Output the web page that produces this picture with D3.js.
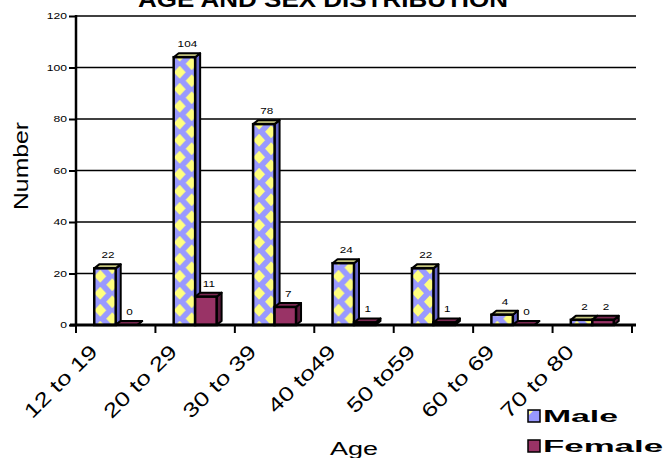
<!DOCTYPE html>
<html>
<head>
<meta charset="utf-8">
<script src="https://cdn.jsdelivr.net/npm/d3@7"></script>
<style>
  body { margin: 0; background: #fff; }
  text { font-family: "Liberation Sans", Arial, sans-serif; }
</style>
</head>
<body>
<svg id="chart" width="664" height="458"></svg>
<script>
var categories = ["12 to 19", "20 to 29", "30 to 39", "40 to49", "50 to59", "60 to 69", "70 to 80"]
var series = ["Male", "Female"]
var male = [22, 104, 78, 24, 22, 4, 2]
var female = [0, 11, 7, 1, 1, 0, 2]
var yTicks = [0, 20, 40, 60, 80, 100, 120]

var svg = d3.select("#chart")
var plotLeft = 76, plotRight = 632, plotTop = 16, plotBottom = 325
var depth = {dx: 5, dy: -4}

var x = d3.scaleBand().domain(categories).range([plotLeft, plotRight]).padding(0)
var xSub = d3.scaleBand().domain(series).range([0, x.bandwidth()]).paddingInner(0).paddingOuter(0.85)
var y = d3.scaleLinear().domain([0, 120]).range([plotBottom, plotTop])

// stretch text sideways like the original export
function stretch(sel, k) {
  sel.each(function() {
    var len = this.getComputedTextLength()
    d3.select(this).attr("textLength", len * k).attr("lengthAdjust", "spacingAndGlyphs")
  })
}

// checker pattern for male bars
var defs = svg.append("defs")
var pat = defs.append("pattern").attr("id", "maleFill")
  .attr("patternUnits", "userSpaceOnUse").attr("width", 24).attr("height", 17)
pat.append("rect").attr("width", 24).attr("height", 17).attr("fill", "#9999ff")
function diamond(cx, cy, hw, hh) {
  return "M" + (cx - hw) + "," + cy + "L" + cx + "," + (cy - hh) + "L" + (cx + hw) + "," + cy + "L" + cx + "," + (cy + hh) + "Z"
}
var dw = 6, dh = 6.5
pat.append("path").attr("fill", "#ffff80")
  .attr("d", diamond(6, 4.25, dw, dh) + diamond(18, 12.75, dw, dh) + diamond(18, -4.25, dw, dh) + diamond(6, 21.25, dw, dh) + diamond(-6, 12.75, dw, dh) + diamond(30, 4.25, dw, dh))

// title
svg.append("text").attr("x", 138).attr("y", 7).attr("font-size", 22).attr("font-weight", "bold")
  .attr("textLength", 370).attr("lengthAdjust", "spacingAndGlyphs")
  .text("AGE AND SEX DISTRIBUTION")

// gridlines
svg.append("g").selectAll("line").data(yTicks.filter(d => d > 0)).enter().append("line")
  .attr("x1", plotLeft).attr("x2", 636)
  .attr("y1", d => y(d)).attr("y2", d => y(d))
  .attr("stroke", "#000").attr("stroke-width", 1.5)

// y axis
var yAxis = svg.append("g").attr("transform", "translate(" + plotLeft + ",0)")
  .call(d3.axisLeft(y).tickValues(yTicks).tickSize(7).tickPadding(2))
yAxis.select(".domain").remove()
yAxis.selectAll(".tick line").attr("stroke-width", 2)
yAxis.selectAll(".tick text").attr("font-size", 9).attr("font-family", "Liberation Sans, Arial, sans-serif")
stretch(yAxis.selectAll(".tick text"), 1.35)
svg.append("line").attr("x1", plotLeft).attr("x2", plotLeft).attr("y1", plotTop - 1).attr("y2", plotBottom)
  .attr("stroke", "#000").attr("stroke-width", 2.5)

// bars
var groups = svg.append("g").selectAll("g.cat").data(categories).enter().append("g")
  .attr("class", "cat")

groups.each(function(c, i) {
  var g = d3.select(this)
  var vals = {Male: male[i], Female: female[i]}
  series.forEach(function(s) {
    var bx = x(c) + xSub(s), w = xSub.bandwidth()
    var by = y(vals[s]), b0 = y(0)
    var bar = g.append("g").attr("transform", "translate(" + bx + ",0)")
    var front = s == "Male" ? "url(#maleFill)" : "#993366"
    var side = s == "Male" ? "#6464c8" : "#5a1a3c"
    var topc = s == "Male" ? "#c8c880" : "#7a2850"
    bar.append("path")
      .attr("d", "M" + w + "," + by + "L" + (w + depth.dx) + "," + (by + depth.dy) + "L" + (w + depth.dx) + "," + (b0 + depth.dy) + "L" + w + "," + b0 + "Z")
      .attr("fill", side).attr("stroke", "#000").attr("stroke-width", 2).attr("stroke-linejoin", "round")
    bar.append("path")
      .attr("d", "M0," + by + "L" + depth.dx + "," + (by + depth.dy) + "L" + (w + depth.dx) + "," + (by + depth.dy) + "L" + w + "," + by + "Z")
      .attr("fill", topc).attr("stroke", "#000").attr("stroke-width", 2).attr("stroke-linejoin", "round")
    bar.append("rect").attr("x", 0).attr("y", by).attr("width", w).attr("height", b0 - by)
      .attr("fill", front).attr("stroke", "#000").attr("stroke-width", 2.5)
    g.append("text").attr("class", "val")
      .attr("x", bx + w / 2 + 3).attr("y", by - 10)
      .attr("text-anchor", "middle").attr("font-size", 9)
      .text(vals[s])
  })
})
stretch(svg.selectAll("text.val"), 1.3)

// floor line and x ticks
svg.append("line").attr("x1", plotLeft - 6).attr("x2", 636).attr("y1", plotBottom).attr("y2", plotBottom)
  .attr("stroke", "#000").attr("stroke-width", 3)
var bounds = categories.map(c => x(c)).concat([plotRight])
svg.append("g").selectAll("line").data(bounds).enter().append("line")
  .attr("x1", d => d).attr("x2", d => d).attr("y1", plotBottom).attr("y2", plotBottom + 8)
  .attr("stroke", "#000").attr("stroke-width", 2)

// x tick labels
var xl = svg.append("g").selectAll("text").data(categories).enter().append("text")
  .attr("transform", d => "translate(" + (x(d) + x.bandwidth() / 2 - 17) + "," + 353 + ") rotate(-45)")
  .attr("text-anchor", "end").attr("font-size", 20)
  .text(d => d)
stretch(xl, 1.3)

// axis titles
svg.append("text").attr("transform", "translate(28,166) rotate(-90)")
  .attr("text-anchor", "middle").attr("font-size", 20)
  .attr("textLength", 88).attr("lengthAdjust", "spacingAndGlyphs")
  .text("Number")
svg.append("text").attr("x", 330).attr("y", 455).attr("font-size", 18)
  .attr("textLength", 48).attr("lengthAdjust", "spacingAndGlyphs")
  .text("Age")

// legend
var legend = svg.append("g").selectAll("g").data(series).enter().append("g")
  .attr("transform", (d, i) => "translate(528," + (410 + i * 30) + ")")
legend.append("rect").attr("width", 12).attr("height", 12)
  .attr("fill", d => d == "Male" ? "#9999ff" : "#993366")
  .attr("stroke", "#000").attr("stroke-width", 1.5)
legend.filter(d => d == "Male").append("path").attr("d", "M1,1L5,1L1,5Z").attr("fill", "#ffff99")
legend.append("text").attr("x", 15).attr("y", 12).attr("font-size", 16).attr("font-weight", "bold")
  .attr("textLength", (d, i) => i == 0 ? 75 : 120).attr("lengthAdjust", "spacingAndGlyphs")
  .text(d => d)
</script>
</body>
</html>
